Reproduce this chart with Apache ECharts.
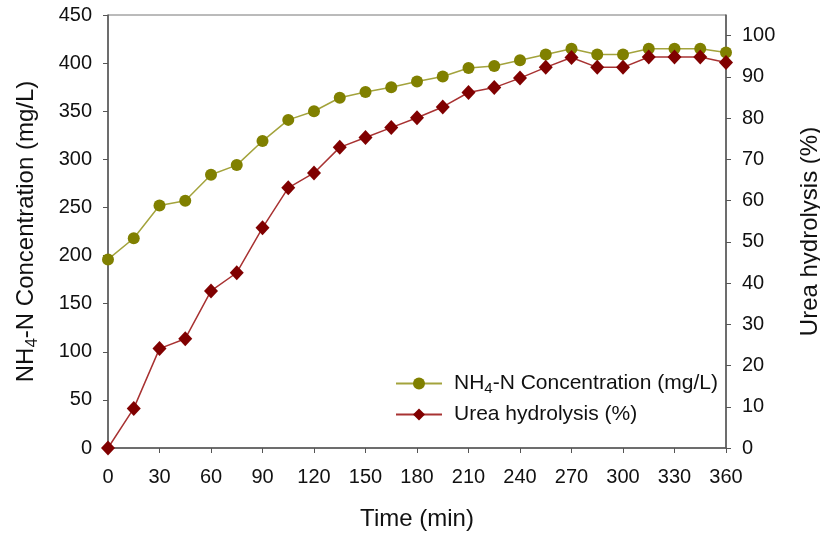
<!DOCTYPE html>
<html>
<head>
<meta charset="utf-8">
<script src="https://cdn.jsdelivr.net/npm/echarts@6/dist/echarts.min.js"></script>
<style>
  html, body { margin: 0; padding: 0; background: #fff; }
  #chart { width: 820px; height: 533px; }
</style>
</head>
<body>
<div id="chart"></div>
<script>
// Sampling times (min)
const timeMin = [0, 15, 30, 45, 60, 75, 90, 105, 120, 135, 150, 165, 180,
                 195, 210, 225, 240, 255, 270, 285, 300, 315, 330, 345, 360];
// NH4-N concentration (mg/L), left axis
const nh4Conc = [196, 218, 252, 257, 284, 294, 319, 341, 350, 364, 370, 375, 381,
                 386, 395, 397, 403, 409, 415, 409, 409, 415, 415, 415, 411];
// Urea hydrolysis (%), right axis
const ureaHydrolysis = [0, 9.6, 24.1, 26.5, 38.1, 42.5, 53.4, 63.1, 66.7, 72.9, 75.3, 77.7, 80.1,
                        82.7, 86.2, 87.4, 89.7, 92.3, 94.7, 92.3, 92.3, 94.8, 94.8, 94.8, 93.5];
const rightTicks = [0, 10, 20, 30, 40, 50, 60, 70, 80, 90, 100];

const FONT = 'Liberation Sans, Arial, sans-serif';
const axisColor = '#555';
const textColor = '#111';

const chart = echarts.init(document.getElementById('chart'), null, { renderer: 'canvas' });

const pair = (xs, ys) => xs.map((x, i) => [x, ys[i]]);

chart.setOption({
  animation: false,
  grid: {
    left: 108, right: 94, top: 15, bottom: 85,
    outerBoundsMode: 'none',
    containLabel: false,
    show: true, borderColor: '#777', borderWidth: 1, backgroundColor: 'transparent'
  },
  legend: {
    orient: 'vertical',
    left: 395, top: 373, padding: 0,
    itemWidth: 46, itemHeight: 15, itemGap: 8,
    textStyle: {
      fontFamily: FONT, fontSize: 21, color: textColor,
      rich: {
        n: { fontFamily: FONT, fontSize: 21, color: textColor },
        s: { fontFamily: FONT, fontSize: 15, color: textColor, padding: [10, 0, 0, 0] },
        g: { width: 7 }
      }
    },
    formatter: function (name) {
      if (name.indexOf('NH4') === 0) {
        return '{g|}{n|NH}{s|4}{n|' + name.slice(3) + '}';
      }
      return '{g|}{n|' + name + '}';
    },
    data: ['NH4-N Concentration (mg/L)', 'Urea hydrolysis (%)']
  },
  xAxis: {
    type: 'value', min: 0, max: 360, interval: 30,
    name: 'Time (min)', nameLocation: 'middle', nameGap: 59,
    nameTextStyle: { fontFamily: FONT, fontSize: 24, color: textColor },
    axisLine: { show: true, onZero: false, lineStyle: { color: axisColor, width: 1.5 } },
    axisTick: { show: true, inside: false, length: 5, lineStyle: { color: axisColor } },
    axisLabel: { fontFamily: FONT, fontSize: 20, color: textColor, margin: 19 },
    splitLine: { show: false }
  },
  yAxis: [
    {
      type: 'value', min: 0, max: 450, interval: 50, position: 'left',
      name: '{n|NH}{s|4}{n|-N Concentration (mg/L)}',
      nameLocation: 'middle', nameGap: 67,
      nameTextStyle: {
        fontFamily: FONT, fontSize: 24, color: textColor,
        rich: {
          n: { fontFamily: FONT, fontSize: 24, color: textColor },
          s: { fontFamily: FONT, fontSize: 17, color: textColor, padding: [12, 0, 0, 0] }
        }
      },
      axisLine: { show: true, lineStyle: { color: axisColor, width: 1.5 } },
      axisTick: { show: true, inside: false, length: 5, lineStyle: { color: axisColor } },
      axisLabel: { fontFamily: FONT, fontSize: 20, color: textColor, margin: 16 },
      splitLine: { show: false }
    },
    {
      type: 'value', min: 0, max: 105, interval: 10, position: 'right',
      name: 'Urea hydrolysis (%)', nameLocation: 'middle', nameGap: 72,
      nameTextStyle: { fontFamily: FONT, fontSize: 24, color: textColor },
      axisLine: { show: true, lineStyle: { color: axisColor, width: 1.5 } },
      axisTick: { show: true, inside: false, length: 5, customValues: rightTicks, lineStyle: { color: axisColor } },
      axisLabel: { fontFamily: FONT, fontSize: 20, color: textColor, margin: 16, customValues: rightTicks },
      splitLine: { show: false }
    }
  ],
  series: [
    {
      name: 'NH4-N Concentration (mg/L)',
      type: 'line', yAxisIndex: 0,
      data: pair(timeMin, nh4Conc),
      symbol: 'circle', symbolSize: 12,
      itemStyle: { color: '#808000' },
      lineStyle: { color: '#a3a33c', width: 1.5 },
      z: 2
    },
    {
      name: 'Urea hydrolysis (%)',
      type: 'line', yAxisIndex: 1,
      data: pair(timeMin, ureaHydrolysis),
      symbol: 'diamond', symbolSize: [14, 15],
      itemStyle: { color: '#800000' },
      lineStyle: { color: '#a83232', width: 1.5 },
      z: 3
    }
  ]
});
</script>
</body>
</html>
